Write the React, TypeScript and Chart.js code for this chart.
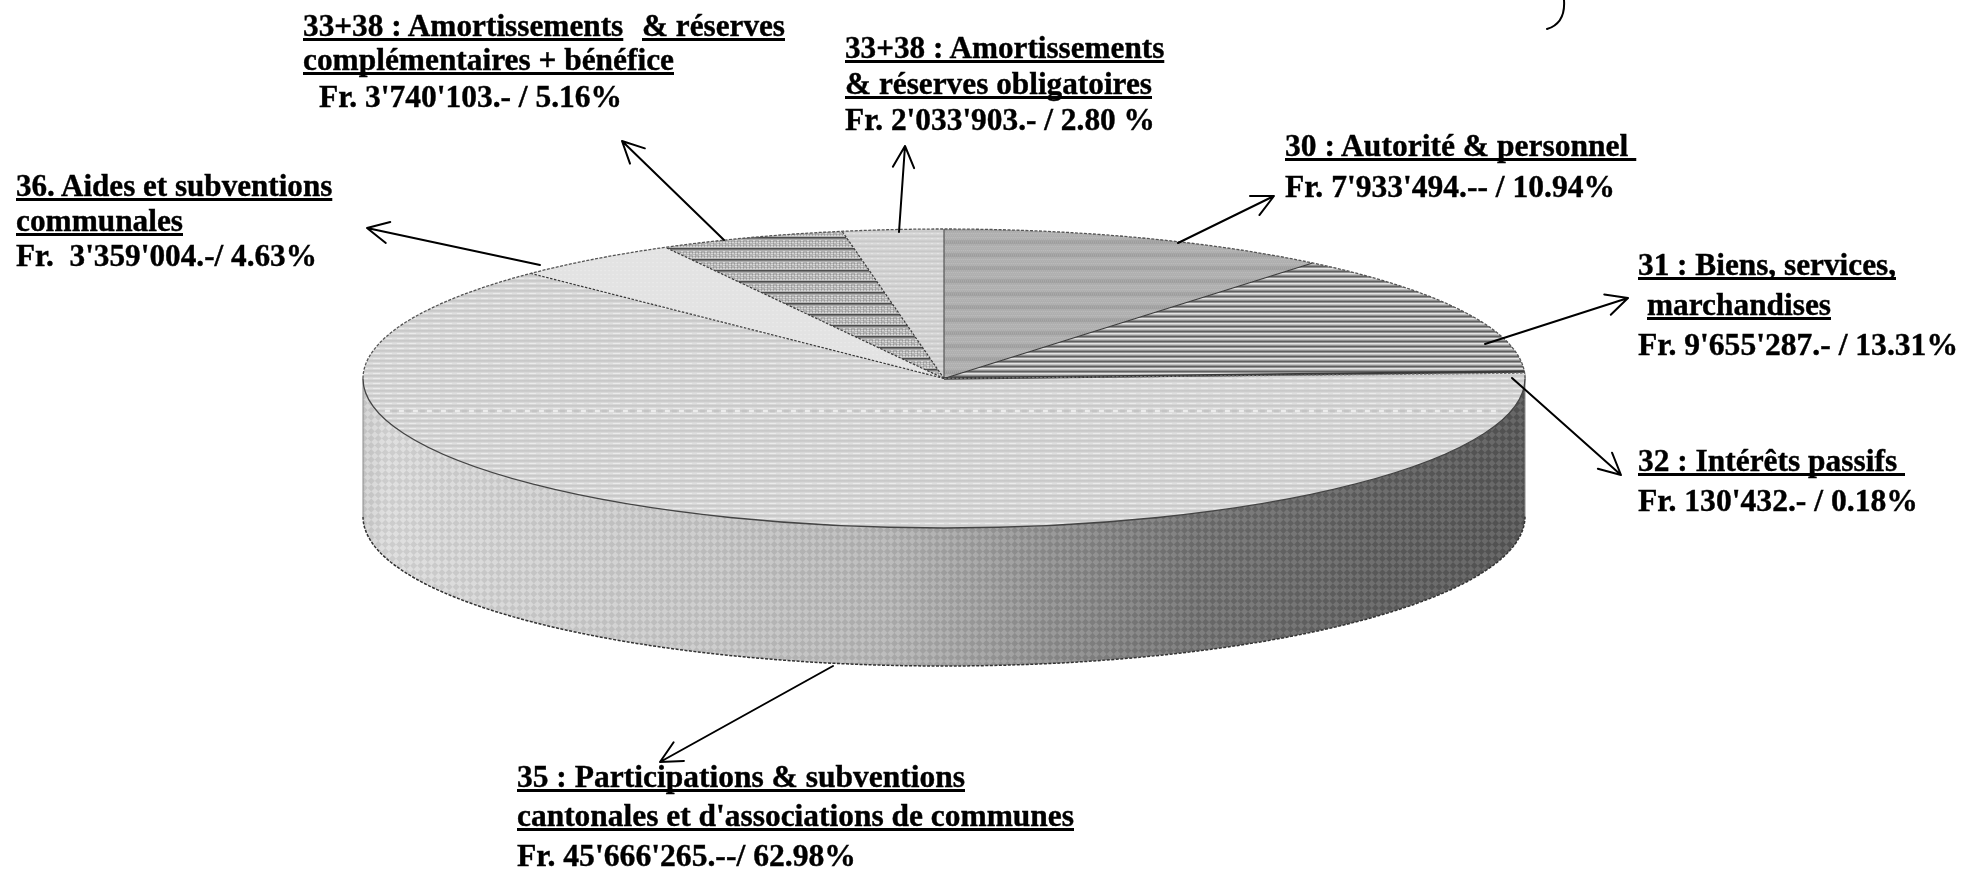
import React, { useEffect, useRef } from "react";
import { Chart, registerables } from "chart.js";

Chart.register(...registerables);

// ---------- data ----------
const categories = [
  "30 : Autorité & personnel",
  "31 : Biens, services, marchandises",
  "32 : Intérêts passifs",
  "35 : Participations & subventions cantonales et d'associations de communes",
  "36. Aides et subventions communales",
  "33+38 : Amortissements & réserves complémentaires + bénéfice",
  "33+38 : Amortissements & réserves obligatoires",
];
const amounts = [7933494, 9655287, 130432, 45666265, 3359004, 3740103, 2033903];

// text, left, baseline, right edge, underlined
type Line = [string, number, number, number, boolean];
const labelLines: Line[] = [
  ["33+38 : Amortissements", 303, 36, 625, true],
  ["& réserves", 642, 36, 785, true],
  ["complémentaires + bénéfice", 303, 70, 674, true],
  ["Fr. 3'740'103.- / 5.16%", 319, 107, 622, false],
  ["36. Aides et subventions", 16, 196, 334, true],
  ["communales", 16, 231, 183, true],
  ["Fr.  3'359'004.-/ 4.63%", 16, 266, 317, false],
  ["33+38 : Amortissements", 845, 58, 1166, true],
  ["& réserves obligatoires", 845, 94, 1152, true],
  ["Fr. 2'033'903.- / 2.80 %", 845, 130, 1155, false],
  ["30 : Autorité & personnel ", 1285, 156, 1638, true],
  ["Fr. 7'933'494.-- / 10.94%", 1285, 197, 1615, false],
  ["31 : Biens, services,", 1638, 275, 1896, true],
  ["marchandises", 1647, 315, 1831, true],
  ["Fr. 9'655'287.- / 13.31%", 1638, 355, 1958, false],
  ["32 : Intérêts passifs ", 1638, 471, 1905, true],
  ["Fr. 130'432.- / 0.18%", 1638, 511, 1918, false],
  ["35 : Participations & subventions", 517, 787, 965, true],
  ["cantonales et d'associations de communes", 517, 826, 1074, true],
  ["Fr. 45'666'265.--/ 62.98%", 517, 866, 856, false],
];

// ---------- layout ----------
const W = 1964;
const H = 869;
const CENTER_X = 944;
const CENTER_Y = 378.5;
const RADIUS = 581;
const SQUASH = 149.5 / 581;
const DEPTH = 138;
const SEAM_Y = 411;
const FONT_SIZE = 32;
const FONT = `bold ${FONT_SIZE}px "Liberation Serif"`;

const leaders = [
  [540, 265, 367, 228],
  [724, 240, 622, 141],
  [899, 232, 905, 146],
  [1178, 243, 1274, 196],
  [1485, 344, 1628, 298],
  [1512, 378, 1621, 475],
  [833, 666, 660, 762],
];

function tile(w: number, h: number, paint: (c: CanvasRenderingContext2D) => void) {
  const cv = document.createElement("canvas");
  cv.width = w;
  cv.height = h;
  paint(cv.getContext("2d")!);
  return cv;
}

function flatPattern(ctx: CanvasRenderingContext2D, cv: HTMLCanvasElement) {
  const p = ctx.createPattern(cv, "repeat")!;
  p.setTransform(new DOMMatrix().scale(1, 1 / SQUASH));
  return p;
}

function rows(c: CanvasRenderingContext2D, w: number, colors: string[]) {
  colors.forEach((col, i) => {
    c.fillStyle = col;
    c.fillRect(0, i, w, 1);
  });
}

function makeFills(ctx: CanvasRenderingContext2D) {
  const t30 = tile(6, 13, (c) => {
    rows(c, 6, ["#9c9c9c", "#a2a2a2", "#aaaaaa", "#afafaf", "#b2b2b2", "#b0b0b0", "#aeaeae", "#afafaf", "#b2b2b2", "#b0b0b0", "#aaaaaa", "#a4a4a4", "#9e9e9e"]);
    c.fillStyle = "rgba(255,255,255,.12)";
    for (let y = 0; y < 13; y += 2) for (let x = y % 4 ? 0 : 1; x < 6; x += 2) c.fillRect(x, y, 1, 1);
  });
  const t31 = tile(2, 5, (c) => rows(c, 2, ["#5a5a5a", "#9a9a9a", "#ececec", "#bcbcbc", "#8c8c8c"]));
  const t32 = tile(2, 2, (c) => rows(c, 2, ["#d8d8d8", "#d8d8d8"]));
  const t35 = tile(12, 5, (c) => {
    rows(c, 12, ["#cdcdcd", "#dadada", "#e0e0e0", "#d4d4d4", "#c7c7c7"]);
    c.fillStyle = "#ededed";
    c.fillRect(1, 2, 7, 1);
  });
  const t36 = tile(4, 4, (c) => {
    c.fillStyle = "#e3e3e3";
    c.fillRect(0, 0, 4, 4);
    c.fillStyle = "#e9e9e9";
    c.fillRect(0, 1, 2, 1);
  });
  const t33c = tile(6, 11, (c) => {
    c.fillStyle = "#b2b2b2";
    c.fillRect(0, 0, 6, 11);
    c.fillStyle = "#dcdcdc";
    for (let y = 3; y < 10; y += 2) for (let x = y % 4 === 1 ? 0 : 3; x < 6; x += 3) c.fillRect(x, y, 2, 1);
    c.fillStyle = "#949494";
    for (let y = 4; y < 10; y += 2) for (let x = y % 4 === 0 ? 2 : 5; x < 6; x += 3) c.fillRect(x, y, 1, 1);
    rows(c, 6, ["#404040", "#808080"]);
  });
  const t33o = tile(6, 5, (c) => {
    rows(c, 6, ["#c8c8c8", "#d4d4d4", "#dcdcdc", "#d4d4d4", "#cdcdcd"]);
    c.fillStyle = "#e6e6e6";
    c.fillRect(1, 2, 2, 1);
  });
  return [t30, t31, t32, t35, t36, t33c, t33o].map((t) => flatPattern(ctx, t));
}

const arcsOf = (chart: any) => chart.getDatasetMeta(0).data as any[];

const pie3d = {
  id: "pie3d",
  beforeDatasetDraw(chart: any) {
    const ctx: CanvasRenderingContext2D = chart.ctx;
    // side wall of every slice that faces the viewer
    const grad = ctx.createLinearGradient(CENTER_X - RADIUS, 0, CENTER_X + RADIUS, 0);
    grad.addColorStop(0, "#d0d0d0");
    grad.addColorStop(0.02, "#dcdcdc");
    grad.addColorStop(0.3, "#c8c8c8");
    grad.addColorStop(0.45, "#b6b6b6");
    grad.addColorStop(0.58, "#929292");
    grad.addColorStop(0.72, "#707070");
    grad.addColorStop(0.88, "#5e5e5e");
    grad.addColorStop(1, "#565656");
    const cells = tile(10, 10, (c) => {
      c.fillStyle = "rgba(255,255,255,.10)";
      c.fillRect(0, 0, 5, 5);
      c.fillRect(5, 5, 5, 5);
      c.fillStyle = "rgba(0,0,0,.07)";
      c.fillRect(5, 0, 5, 5);
      c.fillRect(0, 5, 5, 5);
    });
    const overlay = ctx.createPattern(cells, "repeat")!;
    overlay.setTransform(new DOMMatrix().rotate(45));
    for (const el of arcsOf(chart)) {
      const a = Math.max(el.startAngle, 0);
      const b = Math.min(el.endAngle, Math.PI);
      if (b <= a) continue;
      const ry = el.outerRadius * SQUASH;
      for (const fill of [grad, overlay]) {
        ctx.beginPath();
        ctx.ellipse(el.x, el.y, el.outerRadius, ry, 0, a, b);
        ctx.ellipse(el.x, el.y + DEPTH, el.outerRadius, ry, 0, b, a, true);
        ctx.closePath();
        ctx.fillStyle = fill;
        ctx.fill();
      }
      // lower rim
      ctx.save();
      ctx.strokeStyle = "#333";
      ctx.lineWidth = 1.5;
      ctx.setLineDash([3, 1.5]);
      ctx.beginPath();
      ctx.ellipse(el.x, el.y + DEPTH, el.outerRadius, ry, 0, a, b);
      ctx.stroke();
      ctx.restore();
    }
    const first = arcsOf(chart)[0];
    ctx.save();
    ctx.strokeStyle = "#8a8a8a";
    ctx.lineWidth = 1;
    ctx.beginPath();
    ctx.moveTo(first.x - first.outerRadius, first.y);
    ctx.lineTo(first.x - first.outerRadius, first.y + DEPTH);
    ctx.moveTo(first.x + first.outerRadius, first.y - 5);
    ctx.lineTo(first.x + first.outerRadius, first.y + DEPTH);
    ctx.stroke();
    ctx.restore();
    // squash the library's circular slices into the ellipse
    ctx.save();
    ctx.translate(0, first.y);
    ctx.scale(1, SQUASH);
    ctx.translate(0, -first.y);
  },
  afterDatasetDraw(chart: any) {
    const ctx: CanvasRenderingContext2D = chart.ctx;
    ctx.restore();
    const arcs = arcsOf(chart);
    const { x, y, outerRadius: R } = arcs[0];
    const ry = R * SQUASH;

    // pale dotted seam across the top face
    const half = R * Math.sqrt(1 - ((SEAM_Y - y) / ry) ** 2);
    ctx.save();
    ctx.lineWidth = 2.5;
    ctx.strokeStyle = "#ececec";
    ctx.beginPath();
    ctx.moveTo(x - half + 8, SEAM_Y);
    ctx.lineTo(x + half - 8, SEAM_Y);
    ctx.setLineDash([5, 9]);
    ctx.stroke();
    ctx.strokeStyle = "#c4c4c4";
    ctx.lineDashOffset = -7;
    ctx.stroke();
    ctx.restore();

    // radial edges
    arcs.forEach((el, i) => {
      const px = x + R * Math.cos(el.startAngle);
      const py = y + ry * Math.sin(el.startAngle);
      ctx.save();
      ctx.beginPath();
      ctx.moveTo(x, y);
      ctx.lineTo(px, py);
      ctx.strokeStyle = i === 0 ? "#555" : "#3a3a3a";
      ctx.lineWidth = i === 2 ? 2.6 : 1.2;
      if (i > 2) ctx.setLineDash([2.5, 1.5]);
      if (i === 3) ctx.strokeStyle = "#777";
      ctx.stroke();
      ctx.restore();
    });

    // rim of the top face
    ctx.save();
    ctx.strokeStyle = "#444";
    ctx.lineWidth = 1.3;
    ctx.beginPath();
    ctx.ellipse(x, y, R, ry, 0, 0, Math.PI);
    ctx.stroke();
    ctx.setLineDash([3, 1.5]);
    ctx.strokeStyle = "#555";
    ctx.beginPath();
    ctx.ellipse(x, y, R, ry, 0, Math.PI, 2 * Math.PI);
    ctx.stroke();
    ctx.restore();

    // leaders
    ctx.save();
    ctx.strokeStyle = "#000";
    ctx.lineWidth = 2;
    ctx.lineCap = "round";
    for (const [x0, y0, x1, y1] of leaders) {
      const ang = Math.atan2(y1 - y0, x1 - x0);
      ctx.beginPath();
      ctx.moveTo(x0, y0);
      ctx.lineTo(x1, y1);
      for (const s of [-1, 1]) {
        ctx.moveTo(x1, y1);
        ctx.lineTo(x1 - 24 * Math.cos(ang + s * 0.46), y1 - 24 * Math.sin(ang + s * 0.46));
      }
      ctx.stroke();
    }
    // pen stroke at the top of the sheet
    ctx.beginPath();
    ctx.moveTo(1564, 0);
    ctx.bezierCurveTo(1565, 14, 1560, 25, 1547, 29);
    ctx.stroke();
    ctx.restore();
  },
};

const measurer = document.createElement("canvas").getContext("2d")!;

function Label({ line }: { line: Line }) {
  const [text, left, base, right, under] = line;
  measurer.font = FONT;
  const natural = measurer.measureText(text).width;
  const lh = 40;
  const top = base - ((lh - 1.107 * FONT_SIZE) / 2 + 0.891 * FONT_SIZE);
  return (
    <span
      style={{
        position: "absolute",
        left,
        top,
        font: FONT,
        lineHeight: `${lh}px`,
        color: "#000",
        whiteSpace: "pre",
        transformOrigin: "0 0",
        transform: `scaleX(${(right - left) / natural})`,
        WebkitTextStroke: "0.4px #000",
        textDecoration: under ? "underline" : "none",
        textDecorationThickness: "3px",
        textUnderlineOffset: "2px",
        textDecorationSkipInk: "none",
      }}
    >
      {text}
    </span>
  );
}

export default function App() {
  const ref = useRef<HTMLCanvasElement | null>(null);
  useEffect(() => {
    const canvas = ref.current!;
    const ctx = canvas.getContext("2d")!;
    const chart = new Chart(canvas, {
      type: "pie",
      data: {
        labels: categories,
        datasets: [
          {
            data: amounts,
            backgroundColor: makeFills(ctx),
            borderWidth: 0,
            radius: RADIUS,
            clip: false,
          } as any,
        ],
      },
      options: {
        responsive: false,
        animation: false,
        devicePixelRatio: 1,
        layout: {
          padding: { left: 0, top: 0, right: W - 2 * CENTER_X, bottom: H - 2 * CENTER_Y },
        },
        plugins: { legend: { display: false }, tooltip: { enabled: false } },
      },
      plugins: [pie3d],
    });
    return () => chart.destroy();
  }, []);
  return (
    <div style={{ position: "absolute", left: 0, top: 0, width: W, height: H, overflow: "hidden", background: "#fff" }}>
      <canvas ref={ref} width={W} height={H} style={{ position: "absolute", left: 0, top: 0 }} />
      {labelLines.map((l, i) => (
        <Label key={i} line={l} />
      ))}
    </div>
  );
}
